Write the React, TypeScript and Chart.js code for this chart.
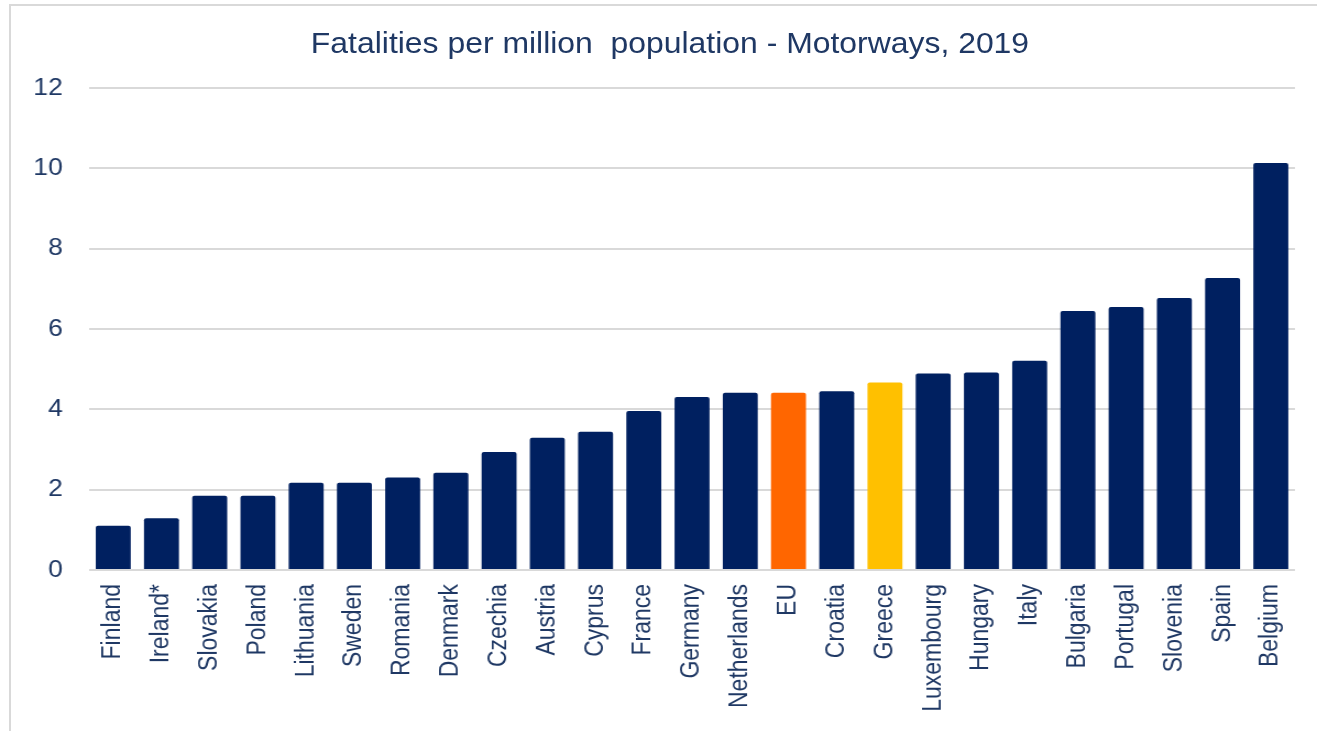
import React, { useEffect, useRef } from "react";
import { Chart, registerables } from "chart.js";

Chart.register(...registerables);

const categories = [
  "Finland", "Ireland*", "Slovakia", "Poland", "Lithuania", "Sweden", "Romania",
  "Denmark", "Czechia", "Austria", "Cyprus", "France", "Germany", "Netherlands",
  "EU", "Croatia", "Greece", "Luxembourg", "Hungary", "Italy", "Bulgaria",
  "Portugal", "Slovenia", "Spain", "Belgium",
];
const fatalities = [
  1.10, 1.29, 1.85, 1.85, 2.17, 2.17, 2.30, 2.42, 2.94, 3.29, 3.44, 3.96, 4.31,
  4.41, 4.41, 4.45, 4.67, 4.89, 4.92, 5.21, 6.45, 6.55, 6.77, 7.27, 10.13,
];
const highlightColors: Record<string, string> = { EU: "#FF6600", Greece: "#FFC000" };
const titleText = "Fatalities per million  population - Motorways, 2019";
const yTicks = [0, 2, 4, 6, 8, 10, 12];

const NAVY = "#002060";
const TEXT = "#1F3864";
const GRID = "#D9D9D9";
const FONT = "'Liberation Sans', Arial, sans-serif";

const FULL_W = 1317;
const H = 731;
const W = 1197;
const SX = FULL_W / W;

export default function App() {
  const ref = useRef<HTMLCanvasElement | null>(null);

  useEffect(() => {
    if (!ref.current) return;
    const chart = new Chart(ref.current, {
      type: "bar",
      data: {
        labels: categories,
        datasets: [
          {
            data: fatalities,
            backgroundColor: categories.map((c) => highlightColors[c] || NAVY),
            borderRadius: 2,
            borderSkipped: "bottom",
            barPercentage: 0.725,
            categoryPercentage: 1,
          },
        ],
      },
      options: {
        responsive: false,
        animation: false,
        devicePixelRatio: 1,
        layout: { padding: { top: 88, left: 0, right: 19, bottom: 0 } },
        plugins: { legend: { display: false }, title: { display: false }, tooltip: { enabled: false } },
        scales: {
          x: {
            grid: { display: false, drawTicks: false },
            border: { display: false },
            ticks: {
              minRotation: 90,
              maxRotation: 90,
              autoSkip: false,
              padding: 14,
              color: TEXT,
              font: { family: FONT, size: 23 },
            },
            afterFit: (scale: any) => {
              scale.height = 161;
            },
          },
          y: {
            min: 0,
            max: 12,
            afterBuildTicks: (scale: any) => {
              scale.ticks = yTicks.map((v) => ({ value: v }));
            },
            grid: { color: GRID, lineWidth: 2, drawTicks: false },
            border: { display: false },
            ticks: {
              padding: 24,
              color: TEXT,
              font: { family: FONT, size: 24 },
            },
            afterFit: (scale: any) => {
              scale.width = 81;
            },
          },
        },
      },
    });
    return () => chart.destroy();
  }, []);

  return (
    <div style={{ position: "absolute", left: 0, top: 0, width: FULL_W, height: H, overflow: "hidden", background: "#fff" }}>
      <div
        style={{
          position: "absolute",
          left: 9,
          top: 4,
          width: FULL_W,
          height: H,
          borderLeft: `2px solid ${GRID}`,
          borderTop: `2px solid ${GRID}`,
        }}
      />
      <div
        style={{
          position: "absolute",
          left: 0,
          top: 0,
          width: W,
          height: H,
          transform: `scaleX(${SX})`,
          transformOrigin: "0 0",
        }}
      >
        <canvas ref={ref} width={W} height={H} style={{ position: "absolute", left: 0, top: 0, width: W, height: H }} />
        <div
          style={{
            position: "absolute",
            left: 670 / SX - 400,
            width: 800,
            top: 29,
            textAlign: "center",
            fontFamily: FONT,
            fontSize: 29,
            lineHeight: "29px",
            color: TEXT,
            whiteSpace: "pre",
          }}
        >
          {titleText}
        </div>
      </div>
    </div>
  );
}
